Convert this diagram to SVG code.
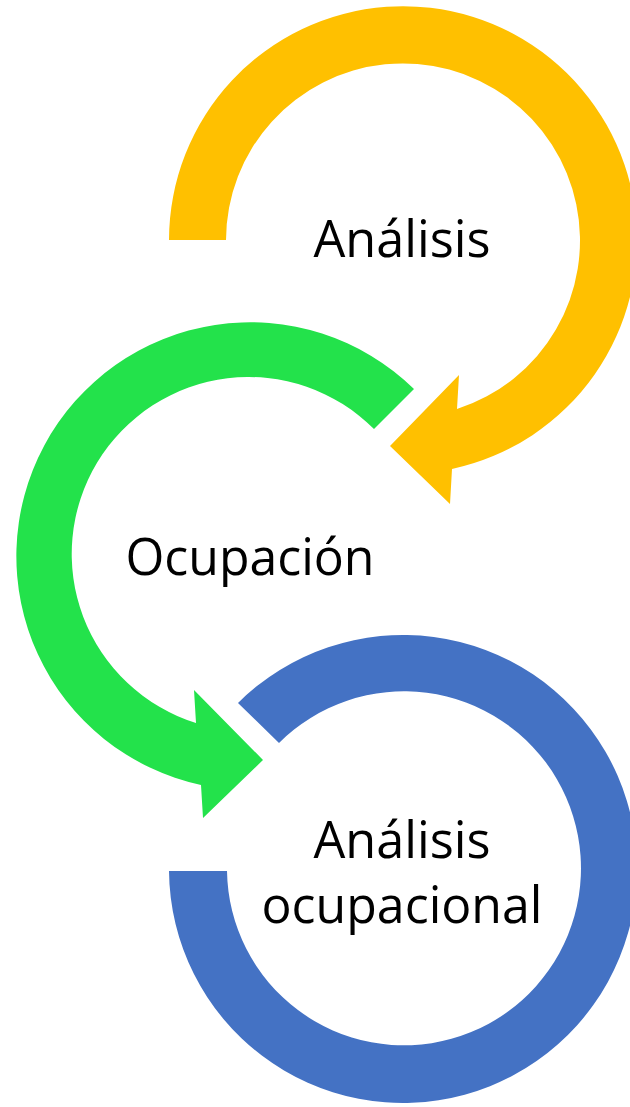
<svg xmlns="http://www.w3.org/2000/svg" width="630" height="1107" viewBox="0 0 630 1107">
<style>
.lbl{font-family:"Open Sans","Liberation Sans",sans-serif;font-size:52px;fill:#000;text-anchor:middle}
.y{fill:#FFC000}
.g{fill:#23E24B}
.b{fill:#4472C4}
</style>
<rect width="630" height="1107" fill="#fff"/>
<g id="node-analisis">
<path class="y" d="M 169 240 A 234 234 0 1 1 452 469 L 450 504 L 390 446 L 459 375 L 457 409 A 177 177 0 1 0 226 240 Z"/>
<text class="lbl" x="402" y="257" textLength="177" lengthAdjust="spacingAndGlyphs">Análisis</text>
</g>
<g id="node-ocupacion">
<path class="g" d="M 414 389 A 234 234 0 1 0 201 785 L 203 818 L 263 760 L 194 690 L 196 723 A 177 177 0 1 1 374 429 Z"/>
<text class="lbl" x="250" y="575" textLength="249" lengthAdjust="spacingAndGlyphs">Ocupación</text>
</g>
<g id="node-analisis-ocupacional">
<path class="b" d="M 238 703 A 234 234 0 1 1 169 871 L 227 871 A 177 177 0 1 0 279 743 Z"/>
<text class="lbl" x="402" y="858" textLength="177" lengthAdjust="spacingAndGlyphs">Análisis</text>
<text class="lbl" x="402" y="923" textLength="281" lengthAdjust="spacingAndGlyphs">ocupacional</text>
</g>
<g id="connectors"></g>
</svg>
